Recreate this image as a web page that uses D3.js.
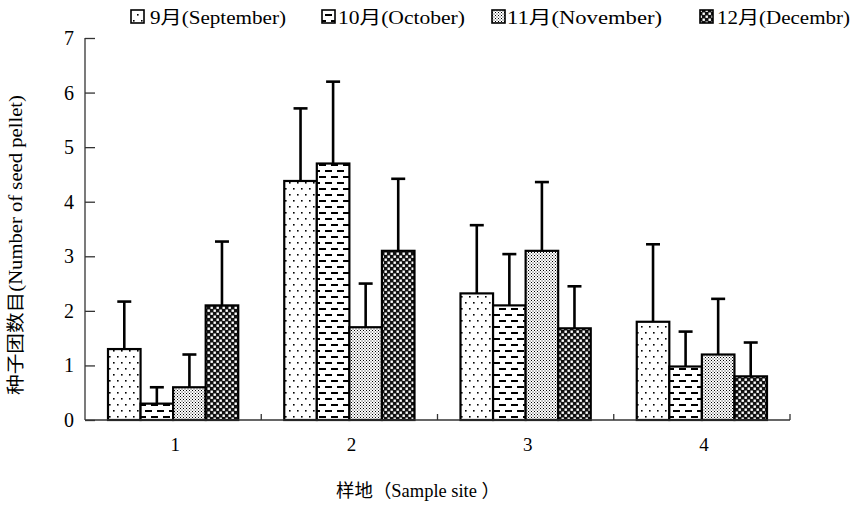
<!DOCTYPE html>
<html>
<head>
<meta charset="utf-8">
<script src="https://cdn.jsdelivr.net/npm/d3@7/dist/d3.min.js"></script>
<style>
  html, body { margin: 0; padding: 0; background: #fff; }
  svg { display: block; }
  svg text { font-family: "Times New Roman", "Liberation Serif", Tinos, "DejaVu Serif", "Noto Sans CJK SC", serif; fill: #000; }
</style>
</head>
<body>
<svg id="chart" width="861" height="505"></svg>
<script>
// Sample sites along the x axis
const sites = ["1", "2", "3", "4"];
// Months shown as grouped bars
const months = ["sep", "oct", "nov", "dec"];
const monthLabels = ["9月(September)", "10月(October)", "11月(November)", "12月(Decembr)"];
// Mean number of seed pellets per site, one array per month
const sepValues = [1.3, 4.38, 2.32, 1.8];
const octValues = [0.3, 4.7, 2.1, 0.98];
const novValues = [0.6, 1.7, 3.1, 1.2];
const decValues = [2.1, 3.1, 1.68, 0.8];
// Upper error (standard deviation) per site, one array per month
const sepErrors = [0.87, 1.33, 1.25, 1.42];
const octErrors = [0.3, 1.5, 0.94, 0.64];
const novErrors = [0.6, 0.8, 1.26, 1.02];
const decErrors = [1.17, 1.32, 0.77, 0.62];
// Y axis ticks
const yTicks = [0, 1, 2, 3, 4, 5, 6, 7];

const values = [sepValues, octValues, novValues, decValues];
const errors = [sepErrors, octErrors, novErrors, decErrors];

const FONT = '"Times New Roman", "Liberation Serif", Tinos, "DejaVu Serif", "Noto Sans CJK SC", serif';

const svg = d3.select("#chart");

// ---- fill patterns ----
const defs = svg.append("defs");

// September: sparse staggered dots
const pSep = defs.append("pattern").attr("id", "p-sep")
  .attr("patternUnits", "userSpaceOnUse").attr("width", 8).attr("height", 12);
pSep.append("rect").attr("width", 8).attr("height", 12).attr("fill", "#fff");
pSep.append("rect").attr("x", 1).attr("y", 2).attr("width", 1.6).attr("height", 1.6).attr("fill", "#000");
pSep.append("rect").attr("x", 5).attr("y", 8).attr("width", 1.6).attr("height", 1.6).attr("fill", "#000");

// October: horizontal dashes
const pOct = defs.append("pattern").attr("id", "p-oct")
  .attr("patternUnits", "userSpaceOnUse").attr("width", 12).attr("height", 12);
pOct.append("rect").attr("width", 12).attr("height", 12).attr("fill", "#fff");
pOct.append("rect").attr("x", 1).attr("y", 2).attr("width", 7).attr("height", 2).attr("fill", "#000");
pOct.append("rect").attr("x", 7).attr("y", 8).attr("width", 7).attr("height", 2).attr("fill", "#000");
pOct.append("rect").attr("x", -5).attr("y", 8).attr("width", 7).attr("height", 2).attr("fill", "#000");

// November: fine stipple
const pNov = defs.append("pattern").attr("id", "p-nov")
  .attr("patternUnits", "userSpaceOnUse").attr("width", 3).attr("height", 3);
pNov.append("rect").attr("width", 3).attr("height", 3).attr("fill", "#fff");
pNov.append("rect").attr("x", 0).attr("y", 0).attr("width", 1).attr("height", 1).attr("fill", "#000");
pNov.append("rect").attr("x", 1.5).attr("y", 1.5).attr("width", 1).attr("height", 1).attr("fill", "#222");

// December: dark checker
const pDec = defs.append("pattern").attr("id", "p-dec")
  .attr("patternUnits", "userSpaceOnUse").attr("width", 6).attr("height", 6);
pDec.append("rect").attr("width", 6).attr("height", 6).attr("fill", "#111");
pDec.append("rect").attr("x", 0.5).attr("y", 0.5).attr("width", 2.4).attr("height", 2.4).attr("fill", "#fff");
pDec.append("rect").attr("x", 3.5).attr("y", 3.5).attr("width", 2.4).attr("height", 2.4).attr("fill", "#fff");

const fills = { sep: "url(#p-sep)", oct: "url(#p-oct)", nov: "url(#p-nov)", dec: "url(#p-dec)" };

// ---- scales ----
const x0 = d3.scaleBand().domain(sites).range([85, 790]).padding(0);
const x1 = d3.scaleBand().domain(months).range([23, x0.bandwidth() - 23]).padding(0);
const y = d3.scaleLinear().domain([0, 7]).range([420, 38]);

// ---- bars ----
const rows = [];
sites.forEach((s, i) => {
  months.forEach((m, j) => {
    rows.push({ site: s, month: m, value: values[j][i], err: errors[j][i] });
  });
});

const g = svg.append("g");

// error bars (upper side only), drawn under the bars
const eb = g.selectAll("g.err").data(rows).join("g").attr("class", "err");
eb.append("line")
  .attr("x1", d => x0(d.site) + x1(d.month) + x1.bandwidth() / 2)
  .attr("x2", d => x0(d.site) + x1(d.month) + x1.bandwidth() / 2)
  .attr("y1", d => y(d.value))
  .attr("y2", d => y(d.value + d.err))
  .attr("stroke", "#000").attr("stroke-width", 2.6);
eb.append("line")
  .attr("x1", d => x0(d.site) + x1(d.month) + x1.bandwidth() / 2 - 7)
  .attr("x2", d => x0(d.site) + x1(d.month) + x1.bandwidth() / 2 + 7)
  .attr("y1", d => y(d.value + d.err))
  .attr("y2", d => y(d.value + d.err))
  .attr("stroke", "#000").attr("stroke-width", 2.6);

g.selectAll("rect.bar").data(rows).join("rect").attr("class", "bar")
  .attr("x", d => x0(d.site) + x1(d.month))
  .attr("y", d => y(d.value))
  .attr("width", x1.bandwidth())
  .attr("height", d => y(0) - y(d.value))
  .attr("fill", d => fills[d.month])
  .attr("stroke", "#000").attr("stroke-width", 2.2);

// ---- axes ----
const yAxis = svg.append("g").attr("transform", "translate(85,0)")
  .call(d3.axisRight(y).tickValues(yTicks).tickSize(10).tickFormat(""));
yAxis.select(".domain").attr("stroke", "#333").attr("stroke-width", 1.3).attr("d", `M0,${y(7)}V${y(0)}`);
yAxis.selectAll(".tick line").attr("stroke", "#333").attr("stroke-width", 1.3);

svg.append("g").selectAll("text").data(yTicks).join("text")
  .attr("x", 74).attr("y", d => y(d) + 7)
  .attr("text-anchor", "end").attr("font-size", 20).attr("font-family", FONT)
  .text(d => d);

const xAxis = svg.append("g").attr("transform", `translate(0,${y(0)})`)
  .call(d3.axisTop(x0).tickSize(0).tickFormat(""));
xAxis.select(".domain").attr("stroke", "#333").attr("stroke-width", 1.3).attr("d", `M85,0H790`);
xAxis.selectAll(".tick").remove();
// boundary ticks between sites
svg.append("g").selectAll("line").data(sites).join("line")
  .attr("x1", d => x0(d) + x0.bandwidth()).attr("x2", d => x0(d) + x0.bandwidth())
  .attr("y1", y(0)).attr("y2", y(0) - 6)
  .attr("stroke", "#333").attr("stroke-width", 1.3);

svg.append("g").selectAll("text").data(sites).join("text")
  .attr("x", d => x0(d) + x0.bandwidth() / 2 + 2).attr("y", 451)
  .attr("text-anchor", "middle").attr("font-size", 19).attr("font-family", FONT)
  .text(d => d);

// ---- axis titles ----
svg.append("text")
  .attr("transform", "translate(22,245) rotate(-90)")
  .attr("text-anchor", "middle").attr("font-size", 18).attr("font-family", FONT)
  .attr("textLength", 300).attr("lengthAdjust", "spacingAndGlyphs")
  .text("种子团数目(Number of seed pellet)");

svg.append("text")
  .attr("x", 336).attr("y", 497)
  .attr("font-size", 18).attr("font-family", FONT)
  .attr("textLength", 164).attr("lengthAdjust", "spacingAndGlyphs")
  .text("样地（Sample site ）");

// ---- legend ----
const legendBoxX = [131, 322, 492, 700];
const legendTextX = [150, 338, 507, 717];
const legendTextW = [136, 127, 155, 133];
const lg = svg.append("g");
months.forEach((m, i) => {
  lg.append("rect")
    .attr("x", legendBoxX[i]).attr("y", 10).attr("width", 13).attr("height", 13)
    .attr("fill", fills[m]).attr("stroke", "#000").attr("stroke-width", 1.6);
  lg.append("text")
    .attr("x", legendTextX[i]).attr("y", 24)
    .attr("font-size", 18).attr("font-family", FONT)
    .attr("textLength", legendTextW[i]).attr("lengthAdjust", "spacingAndGlyphs")
    .text(monthLabels[i]);
});
</script>
</body>
</html>
